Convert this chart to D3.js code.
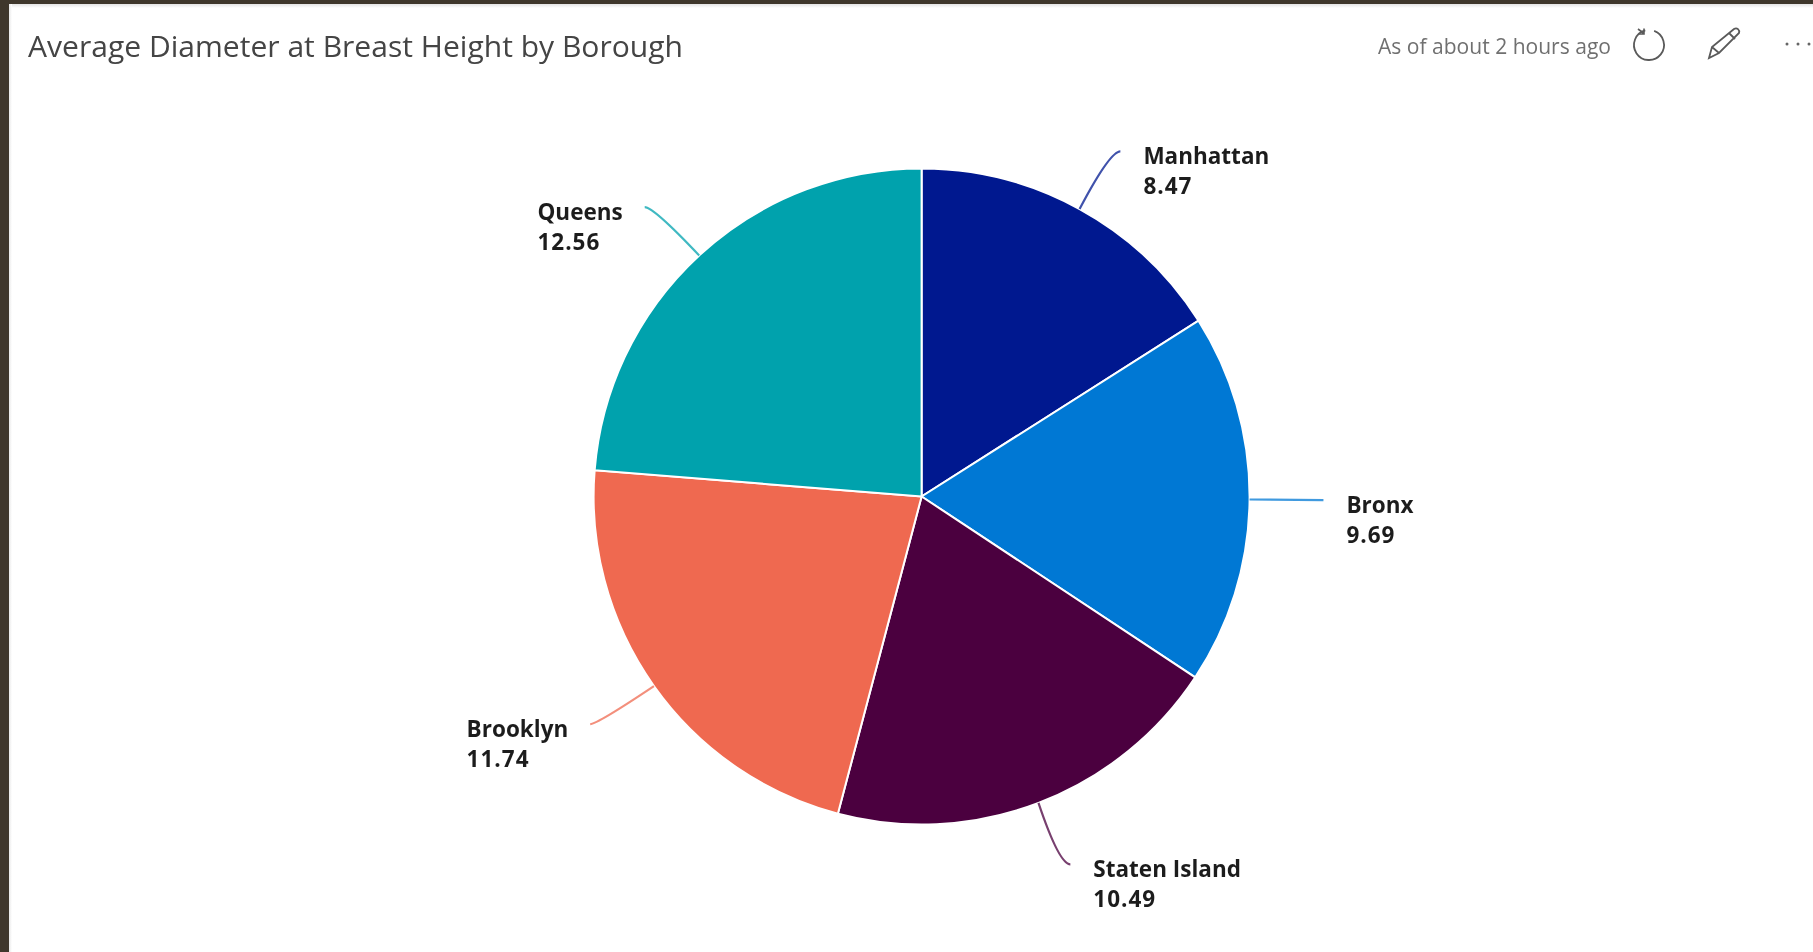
<!DOCTYPE html>
<html><head><meta charset="utf-8">
<style>html,body{margin:0;padding:0;background:#fff;overflow:hidden}svg{display:block}</style>
<script src="https://cdn.jsdelivr.net/npm/d3@7"></script></head>
<body><script>
const boroughs=["Manhattan","Bronx","Staten Island","Brooklyn","Queens"];
const diameters=[8.47,9.69,10.49,11.74,12.56];
const colors=["#00188F","#0078D4","#4B003F","#EF6950","#00A2AD"];
const titleText="Average Diameter at Breast Height by Borough";
const statusText="As of about 2 hours ago";

const W=1813,H=952,cx=921.6,cy=496.5,R=328,leaderR=R*1.225;
const svg=d3.select("body").append("svg").attr("width",W).attr("height",H);
const defs=svg.append("defs");
const sh=defs.append("linearGradient").attr("id","shL");
sh.append("stop").attr("offset",0).attr("stop-color","#e8e8e8");
sh.append("stop").attr("offset",1).attr("stop-color","#fff");
const shT=defs.append("linearGradient").attr("id","shT").attr("x2",0).attr("y2",1);
shT.append("stop").attr("offset",0).attr("stop-color","#e4e4e4");
shT.append("stop").attr("offset",1).attr("stop-color","#fff");
defs.append("filter").attr("id","soft").append("feGaussianBlur").attr("stdDeviation",0.45);

svg.append("rect").attr("width",W).attr("height",H).attr("fill","#fff");
svg.append("rect").attr("x",9).attr("y",4).attr("width",W).attr("height",4).attr("fill","url(#shT)");
svg.append("rect").attr("x",9).attr("y",4).attr("width",3).attr("height",H).attr("fill","url(#shL)");
svg.append("rect").attr("width",W).attr("height",4).attr("fill","#3F372C");
svg.append("rect").attr("width",9).attr("height",H).attr("fill","#3F372C");

const font="'Open Sans','Noto Sans',sans-serif";
svg.append("text").text(titleText).attr("x",28).attr("y",57)
 .attr("font-family",font).attr("font-size",30).attr("fill","#444")
 .attr("textLength",655).attr("lengthAdjust","spacingAndGlyphs").attr("filter","url(#soft)");
svg.append("text").text(statusText).attr("x",1378).attr("y",54)
 .attr("font-family",font).attr("font-size",21).attr("fill","#707070")
 .attr("textLength",233).attr("lengthAdjust","spacingAndGlyphs").attr("filter","url(#soft)");

// header icons
const ic=svg.append("g").attr("fill","none").attr("stroke","#5a5a5a").attr("stroke-width",1.8);
ic.append("path").attr("d",d3.arc()({innerRadius:15,outerRadius:15,startAngle:0.35,endAngle:2*Math.PI-0.25}))
  .attr("transform","translate(1649,45)");
ic.append("path").attr("d","M1638 29l6 4.5M1644 28.500l0 5.5-5.500 0").attr("stroke-width",1.6);
ic.append("path").attr("d","M1709 58l3-11 22-18c3-2 6 1 5 4l-20 20zM1712 47l7 6M1729 33l6 6");
[1787,1798,1809].forEach(x=>svg.append("circle").attr("cx",x).attr("cy",44).attr("r",1.5).attr("fill","#666"));

const pie=d3.pie().sort(null).value(d=>d)(diameters);
const arc=d3.arc().innerRadius(0).outerRadius(R);
const g=svg.append("g").attr("transform",`translate(${cx},${cy})`);
g.selectAll("path.slice").data(pie).join("path").attr("class","slice")
 .attr("d",arc).attr("fill",(d,i)=>colors[i]).attr("stroke","#fff").attr("stroke-width",2);

const mid=d=>(d.startAngle+d.endAngle)/2;
const polar=(a,r)=>[Math.sin(a)*r,-Math.cos(a)*r];
pie.forEach((d,i)=>{
  const a=mid(d),s=polar(a,R),e=polar(a,leaderR);
  const ey=e[1]*0.98;
  const dir=e[0]>=0?1:-1;
  // leader bends to horizontal as it reaches the label
  const bend=6*Math.abs(Math.cos(a));
  const end=[e[0]+dir*bend,ey];
  const c=[e[0]-dir*bend,ey];
  g.append("path").attr("d",`M${s[0]},${s[1]}Q${c[0]},${c[1]} ${end[0]},${end[1]}`)
   .attr("fill","none").attr("stroke",colors[i]).attr("stroke-opacity",0.75).attr("stroke-width",2.2);
  const t=g.append("text").attr("font-family",font).attr("font-weight",700).attr("font-size",22.5)
   .attr("fill","#1f1f1f").attr("filter","url(#soft)");
  const l1=t.append("tspan").text(boroughs[i]);
  const l2=t.append("tspan").text(diameters[i].toFixed(2)).attr("letter-spacing",1);
  const w=Math.max(l1.node().getComputedTextLength(),l2.node().getComputedTextLength());
  const x=dir>0?end[0]+23:end[0]-22-w;
  const y=ey+13;
  l1.attr("x",x).attr("y",y);
  l2.attr("x",x).attr("y",y+30);
});
</script></body></html>
